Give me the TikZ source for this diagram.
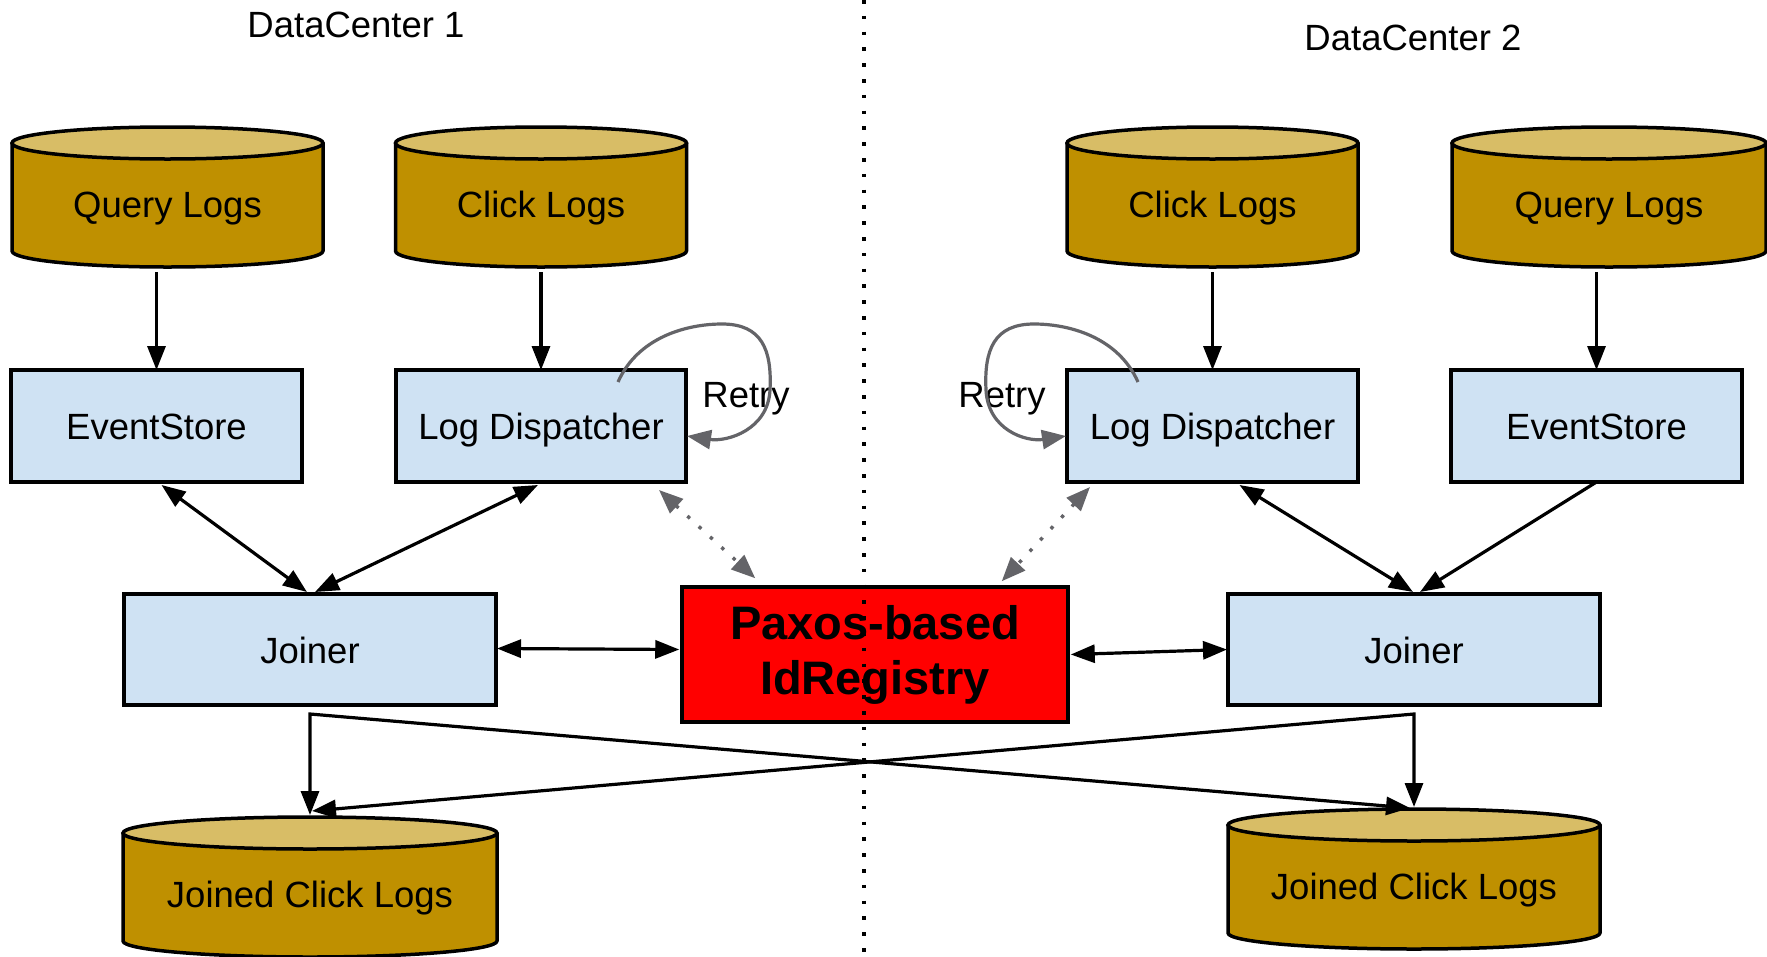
\documentclass[tikz,border=0pt]{standalone}
\usepackage{fontspec}
\setmainfont{Liberation Sans}
\usetikzlibrary{arrows.meta,calc,backgrounds}

\definecolor{boxblue}{RGB}{207,226,243}
\definecolor{dbside}{RGB}{191,144,0}
\definecolor{dbtop}{RGB}{216,189,102}
\definecolor{paxred}{RGB}{255,0,0}
\definecolor{loopgray}{RGB}{100,100,104}

% storage cylinder drawn around a named node; #2 = half of its width
\newcommand\drawdb[2]{%
  \filldraw[fill=dbside,draw=black,line width=3.5pt,line join=round]
    ([yshift=-16pt]#1.north west) -- ([yshift=16pt]#1.south west)
    arc[start angle=180,end angle=360,x radius=#2pt,y radius=16pt]
    -- ([yshift=-16pt]#1.north east) -- cycle;
  \filldraw[fill=dbtop,draw=black,line width=3.5pt]
    ([yshift=-16pt]#1.north) ellipse[x radius=#2pt,y radius=16pt];
}

\begin{document}
\begin{tikzpicture}[x=1pt,y=-1pt,
  font=\fontsize{36.5pt}{44pt}\selectfont,
  dbnode/.style={minimum width=#1, minimum height=140pt, inner sep=0pt,
    outer sep=0pt, text height=40pt, text depth=0pt},
  procbox/.style={draw=black, line width=3.5pt, fill=boxblue, minimum width=#1,
    minimum height=112pt, inner sep=0pt, outer sep=0pt, text height=27pt,
    text depth=0pt},
  flow/.style={line width=3.2pt, -{Triangle[length=24pt,width=18pt]}},
  flow2/.style={line width=3.2pt,
    {Triangle[length=24pt,width=18pt]}-{Triangle[length=24pt,width=18pt]}},
  retry/.style={draw=loopgray, line width=3.2pt,
    -{Triangle[length=24pt,width=19pt]}},
  sync/.style={draw=loopgray, line width=3.4pt, dash pattern=on 3.4pt off 12pt,
    {Triangle[length=24pt,width=19pt]}-{Triangle[length=24pt,width=19pt]}},
  divider/.style={draw=black, line width=3.6pt, dash pattern=on 3.6pt off 12.2pt}]

\useasboundingbox (0,0) rectangle (1767,956);

% data centre titles
\node[anchor=base] (dc1) at (356,37) {DataCenter 1};
\node[anchor=base] (dc2) at (1413,50) {DataCenter 2};

% log stores
\node[dbnode=311pt] (ql1) at (167.5,197) {Query Logs};
\node[dbnode=291pt] (cl1) at (541,197) {Click Logs};
\node[dbnode=291pt] (cl2) at (1212.5,197) {Click Logs};
\node[dbnode=314pt] (ql2) at (1609,197) {Query Logs};

% processing stages
\node[procbox=291pt] (es1) at (156.5,426) {EventStore};
\node[procbox=290pt] (ld1) at (541,426) {Log Dispatcher};
\node[procbox=291pt] (ld2) at (1212.5,426) {Log Dispatcher};
\node[procbox=291pt] (es2) at (1596.5,426) {EventStore};
\node[procbox=372pt, minimum height=111pt] (jl) at (310,649.5) {Joiner};
\node[procbox=372pt, minimum height=111pt] (jr) at (1414,649.5) {Joiner};
\node[draw=black, line width=3.5pt, fill=paxred, minimum width=386pt,
  minimum height=135pt, inner sep=0pt, align=center,
  font=\bfseries\fontsize{47pt}{55pt}\selectfont] (px) at (875,654.5)
  {Paxos-based\\IdRegistry};

% output stores
\node[dbnode=374pt] (jcl1) at (310,887) {Joined Click Logs};
\node[dbnode=372pt] (jcl2) at (1414,879) {Joined Click Logs};

% retry labels
\node[anchor=base] (rt1) at (746,407) {Retry};
\node[anchor=base] (rt2) at (1002,407) {Retry};

\begin{scope}[on background layer]
  \fill[white] (0,0) rectangle (1767,956);
  \drawdb{ql1}{155.5}
  \drawdb{cl1}{145.5}
  \drawdb{cl2}{145.5}
  \drawdb{ql2}{157}
  \drawdb{jcl1}{187}
  \drawdb{jcl2}{186}
\end{scope}

% logs into the pipeline
\draw[flow] ($(es1.north |- ql1.south)+(0,5)$) -- (es1.north);
\draw[flow] ($(cl1.south)+(0,5)$) -- (ld1.north);
\draw[flow] ($(cl2.south)+(0,5)$) -- (ld2.north);
\draw[flow] ($(es2.north |- ql2.south)+(0,5)$) -- (es2.north);

% lookups between joiners and their sources
\draw[flow2] ($(es1.south)+(5,3)$) -- ($(jl.north)+(-3,-2)$);
\draw[flow2] ($(ld1.south)+(-3,3)$) -- ($(jl.north)+(5,-2)$);
\draw[flow2] ($(ld2.south)+(27,3)$) -- ($(jr.north)+(-1,-2)$);
\draw[flow] (es2.south) -- ($(jr.north)+(6,-2)$);

% joiners talk to the registry
\draw[flow2] ($(jl.east)+(1,-1)$) -- ($(px.west)+(-1,-5)$);
\draw[flow2] ($(px.east)+(1,0)$) -- ($(jr.west)+(-1,0)$);

% dispatchers consult the registry
\draw[sync] ($(ld1.south east)+(-27,8)$) -- ($(px.north west)+(75,-7)$);
\draw[sync] ($(ld2.south west)+(23,5)$) -- ($(px.north east)+(-68,-4)$);

% retry loops
\draw[retry] ($(ld1.north east)+(-68,12)$)
  .. controls +(20,-45) and +(-35,0) .. ($(ld1.north east)+(36,-46)$)
  .. controls +(40,0) and +(2,-40) .. ($(ld1.north east)+(84,20)$)
  .. controls +(-2,40) and +(40,6) .. ($(ld1.north east)+(1,66)$);
\draw[retry] ($(ld2.north west)+(71,12)$)
  .. controls +(-20,-45) and +(35,0) .. ($(ld2.north west)+(-33,-46)$)
  .. controls +(-40,0) and +(-2,-40) .. ($(ld2.north west)+(-81,20)$)
  .. controls +(2,40) and +(-40,6) .. ($(ld2.north west)+(-1,66)$);

% joined output, replicated to both data centres
\coordinate (cl) at ($(jl.south)+(0,9)$);
\coordinate (cr) at ($(jr.south)+(0,9)$);
\draw[flow2] ($(jcl1.north)+(0,-2)$) -- (cl) -- ($(jcl2.north)+(-4,-1)$);
\draw[flow2] ($(jcl2.north)+(0,-2)$) -- (cr) -- ($(jcl1.north)+(2,-6)$);

% boundary between the data centres
\coordinate (divtop) at (864,0);
\coordinate (divbot) at (864,956);
\draw[divider] (divtop) -- (divbot);

\end{tikzpicture}
\end{document}
